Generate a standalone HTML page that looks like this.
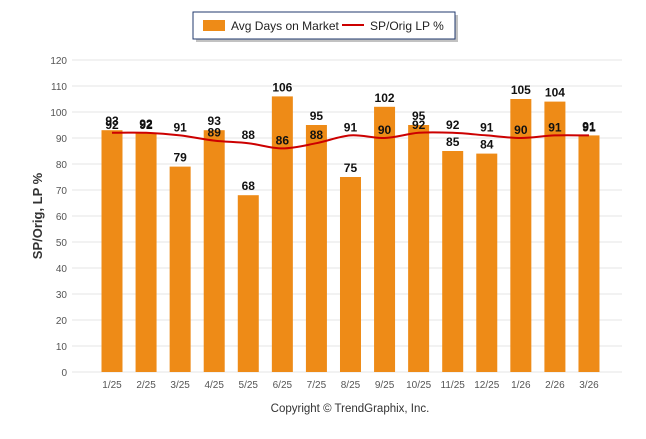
<!DOCTYPE html>
<html><head><meta charset="utf-8"><style>
body{margin:0;background:#fff;font-family:"Liberation Sans",sans-serif;}
svg text{font-family:"Liberation Sans",sans-serif;}
</style></head><body>
<svg id="chart" width="646" height="434">
<g>
<rect x="196" y="15" width="262" height="27" fill="#999" opacity="0.6"/>
<rect x="193" y="12" width="262" height="27" fill="#fff" stroke="#223a6e" stroke-width="1"/>
<rect x="203" y="20" width="22" height="11" fill="#ee8b17"/>
<text x="231" y="30" font-size="12" fill="#222">Avg Days on Market</text>
<line x1="342" y1="25" x2="364" y2="25" stroke="#cc0000" stroke-width="2"/>
<text x="370" y="30" font-size="12" fill="#222">SP/Orig LP %</text>
</g>
<text transform="translate(42,216) rotate(-90)" text-anchor="middle" font-size="13" font-weight="bold" fill="#333">SP/Orig, LP %</text>
<g id="grid"></g><g id="bars"></g><g id="line"></g><g id="labels"></g>
<text x="350" y="412" text-anchor="middle" font-size="11.5" fill="#333">Copyright © TrendGraphix, Inc.</text>
</svg>
<script>
const categories=["1/25","2/25","3/25","4/25","5/25","6/25","7/25","8/25","9/25","10/25","11/25","12/25","1/26","2/26","3/26"];
const daysOnMarket=[93,92,79,93,68,106,95,75,102,95,85,84,105,104,91];
const spOrigLP=[92,92,91,89,88,86,88,91,90,92,92,91,90,91,91];
const yTicks=[0,10,20,30,40,50,60,70,80,90,100,110,120];
const NS="http://www.w3.org/2000/svg";
const y=v=>372-v*2.6;
const x=i=>112+i*34.07;
function mk(tag,attrs,parent){const e=document.createElementNS(NS,tag);for(const k in attrs)e.setAttribute(k,attrs[k]);document.getElementById(parent).appendChild(e);return e;}
yTicks.forEach(t=>{
 const l=mk('line',{x1:72,x2:622,y1:y(t),y2:y(t),stroke:'#e6e6e6','stroke-width':1},'grid');
 
 
 const tx=mk('text',{x:67,y:y(t)+4,'text-anchor':'end','font-size':10,fill:'#555'},'grid');tx.textContent=t;
 
 
});
categories.forEach((c,i)=>{
 const tx=mk('text',{x:x(i),y:388,'text-anchor':'middle','font-size':10,fill:'#555'},'grid');tx.textContent=c;
 
 
 const b=mk('rect',{x:x(i)-10.5,y:y(daysOnMarket[i]),width:21,height:372-y(daysOnMarket[i]),fill:'#ee8b17'},'bars');
 
 
 const bl=mk('text',{x:x(i),y:y(daysOnMarket[i])-5,'text-anchor':'middle','font-size':12,'font-weight':'bold',fill:'#111'},'labels');bl.textContent=daysOnMarket[i];
 
 
 const ll=mk('text',{x:x(i),y:y(spOrigLP[i])-4,'text-anchor':'middle','font-size':12,'font-weight':'bold',fill:'#111'},'labels');ll.textContent=spOrigLP[i];
 
 
});
const P=spOrigLP.map((v,i)=>[x(i),y(v)]);
let d='M'+P[0][0]+','+P[0][1];
for(let i=0;i<P.length-1;i++){
 const p0=P[Math.max(i-1,0)],p1=P[i],p2=P[i+1],p3=P[Math.min(i+2,P.length-1)];
 const c1=[p1[0]+(p2[0]-p0[0])/6,p1[1]+(p2[1]-p0[1])/6];
 const c2=[p2[0]-(p3[0]-p1[0])/6,p2[1]-(p3[1]-p1[1])/6];
 d+=' C'+c1[0]+','+c1[1]+' '+c2[0]+','+c2[1]+' '+p2[0]+','+p2[1];
}
const pl=mk('path',{d:d,fill:'none',stroke:'#cc0000','stroke-width':2},'line');


</script>
</body></html>
